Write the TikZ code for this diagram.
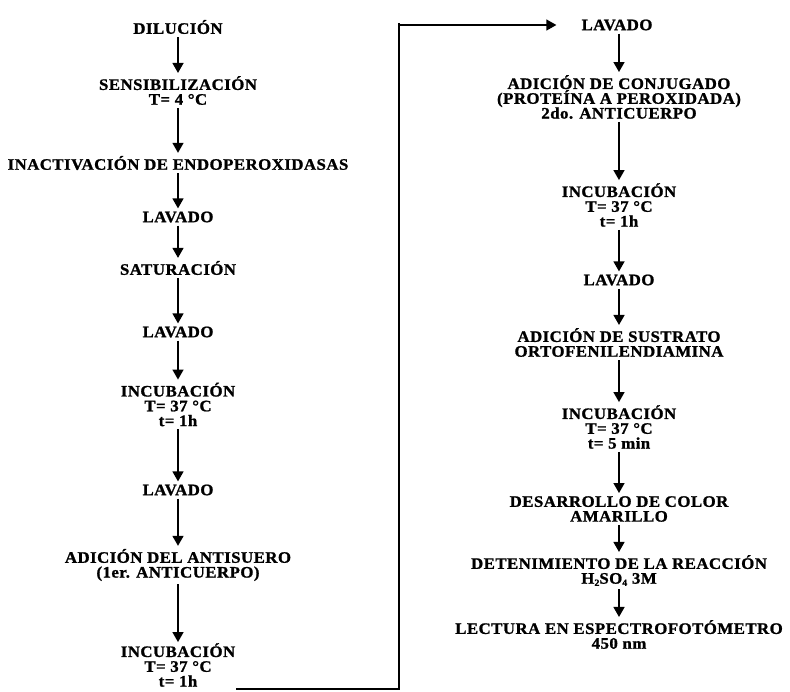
\documentclass[tikz,border=0pt]{standalone}
\usepackage{fontspec}
\setmainfont{Liberation Serif}[LetterSpace=3,FakeStretch=1.05,BoldFeatures={FakeBold=1.2}]
\usepackage{tikz}
\usetikzlibrary{arrows.meta,positioning}
\newcommand{\chemsub}[1]{\raisebox{-0.3ex}{\fontsize{9.5}{9.5}\selectfont #1}}
\tikzset{
  flow/.style={-{Triangle[length=10pt,width=11pt]},line width=1.5pt,black},
  link/.style={-{Triangle[length=10pt,width=11pt]},line width=1.3pt,black},
  paso/.style={inner sep=3pt,align=center,
               font=\fontsize{16}{14.8}\selectfont\bfseries},
}
\begin{document}
\begin{tikzpicture}[x=1pt,y=1pt]
  \path[use as bounding box] (0,0) rectangle (790,-691);

  % left column
  \node[paso] (dil)   at (178,-27)    {DILUCIÓN};
  \node[paso] (sens)  at (178,-90.5)  {SENSIBILIZACIÓN\\T= 4 °C};
  \node[paso] (inact) at (178,-163)   {INACTIVACIÓN DE ENDOPEROXIDASAS};
  \node[paso] (lav1)  at (178,-217)   {LAVADO};
  \node[paso] (sat)   at (178,-268)   {SATURACIÓN};
  \node[paso] (lav2)  at (178,-332)   {LAVADO};
  \node[paso] (inc1)  at (178,-404.5) {INCUBACIÓN\\T= 37 °C\\t= 1h};
  \node[paso] (lav3)  at (178,-490)   {LAVADO};
  \node[paso] (anti)  at (178,-565)   {ADICIÓN DEL ANTISUERO\\(1er. ANTICUERPO)};
  \node[paso,inner sep=1pt] (inc2) at (178,-665) {INCUBACIÓN\\T= 37 °C\\t= 1h};

  \draw[flow] (dil)--(sens);
  \draw[flow] (sens)--(inact);
  \draw[flow] (inact)--(lav1);
  \draw[flow] (lav1)--(sat);
  \draw[flow] (sat)--(lav2);
  \draw[flow] (lav2)--(inc1);
  \draw[flow] (inc1)--(lav3);
  \draw[flow] (lav3)--(anti);
  \draw[flow] (anti)--(inc2);

  % right column
  \node[paso] (lav4)  at (617,-25)    {LAVADO};
  \node[paso] (conj)  at (619,-97)    {ADICIÓN DE CONJUGADO\\(PROTEÍNA A PEROXIDADA)\\2do. ANTICUERPO};
  \node[paso] (inc3)  at (619,-205)   {INCUBACIÓN\\T= 37 °C\\t= 1h};
  \node[paso] (lav5)  at (619,-280)   {LAVADO};
  \node[paso] (sust)  at (619,-342.5) {ADICIÓN DE SUSTRATO\\ORTOFENILENDIAMINA};
  \node[paso] (inc4)  at (619,-427)   {INCUBACIÓN\\T= 37 °C\\t= 5 min};
  \node[paso] (color) at (619,-509)   {DESARROLLO DE COLOR\\AMARILLO};
  \node[paso] (deten) at (619,-570.5) {DETENIMIENTO DE LA REACCIÓN\\H\chemsub{2}SO\chemsub{4} 3M};
  \node[paso] (lect)  at (619,-634.5) {LECTURA EN ESPECTROFOTÓMETRO\\450 nm};

  \draw[flow] (lav4.south -| conj)--(conj);
  \draw[flow] (conj)--(inc3);
  \draw[flow] (inc3)--(lav5);
  \draw[flow] (lav5)--(sust);
  \draw[flow] (sust)--(inc4);
  \draw[flow] (inc4)--(color);
  \draw[flow] (color)--(deten);
  \draw[flow] (deten)--(lect);

  % link between columns
  \coordinate (codo) at (399,-23);
  \draw[link] ([yshift=-1pt]inc2.south east) -| (codo) |- ([xshift=-22pt]lav4.west);
\end{tikzpicture}
\end{document}
